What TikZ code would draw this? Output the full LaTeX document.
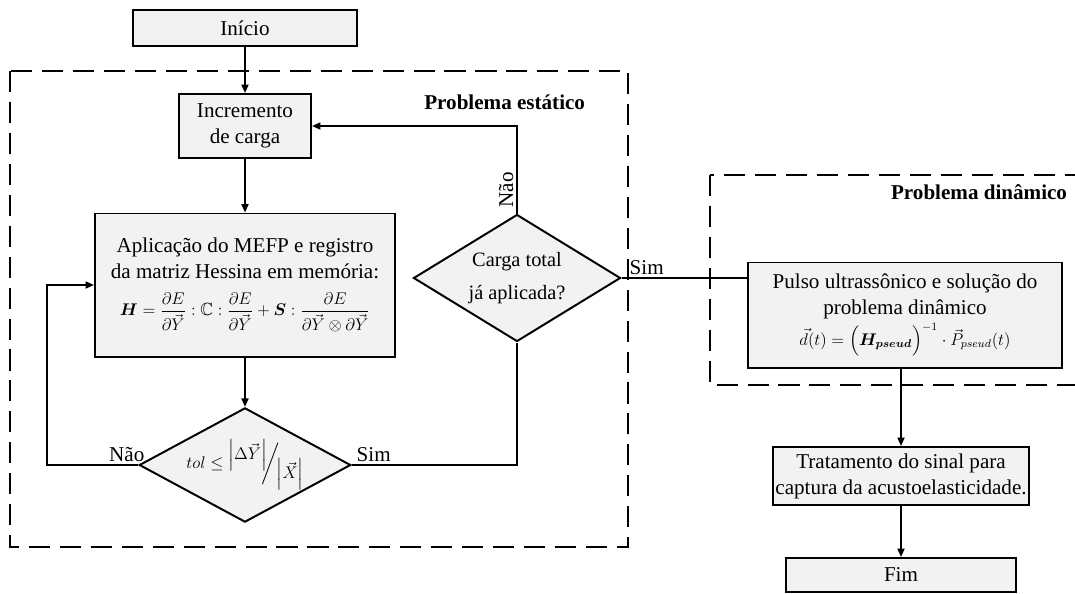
\documentclass[tikz,border=0pt]{standalone}
\usepackage{amsmath,amssymb,bm}
\usepackage{fontspec}
\setmainfont{Liberation Serif}
\usetikzlibrary{shapes.geometric,arrows.meta}
\definecolor{boxgray}{HTML}{F2F2F2}

\begin{document}
\begin{tikzpicture}[
    x=0.025cm, y=-0.025cm,
    box/.style={draw, line width=1.4pt, fill=boxgray, align=center, inner sep=2pt, font=\fontsize{15}{18.5}\selectfont},
    test/.style={diamond, draw, line width=1.4pt, fill=boxgray, align=center, inner sep=0pt, font=\fontsize{14.5}{23}\selectfont},
    region/.style={draw, line width=2pt, dash pattern=on 15pt off 7pt},
    line/.style={line width=1.2pt},
    arr/.style={-{Triangle[length=6pt,width=5pt]}, line width=1.2pt},
    lbl/.style={font=\fontsize{15}{17}\selectfont, inner sep=1pt},
    title/.style={font=\fontsize{15}{17}\selectfont\bfseries}
]
    \useasboundingbox (0,0) rectangle (1075,593);

    % Dashed regions
    \draw[region] (10,71) rectangle (628,547);
    \draw[region] (710,175) rectangle (1090,385);
    \node[title, anchor=east] (tstat) at (590,102) {Problema estático};
    \node[title, anchor=east] (tdyn) at (1072,192) {Problema dinâmico};

    % Static problem
    \node[box, minimum width=5.6cm, minimum height=0.9cm] (ini) at (245,28) {Início};
    \node[box, minimum width=3.3cm, minimum height=1.6cm] (inc) at (245,126) {Incremento\\de carga};
    \node[box, minimum width=7.5cm, minimum height=3.575cm] (mef) at (245,285) {Aplicação do MEFP e registro\\da matriz Hessina em memória:\\[8pt]
        {\fontsize{12.5}{14}\selectfont$\bm{H}=\dfrac{\partial E}{\partial\vec{Y}}:\mathbb{C}:\dfrac{\partial E}{\partial\vec{Y}}+\bm{S}:\dfrac{\partial E}{\partial\vec{Y}\otimes\partial\vec{Y}}$}};
    \node[test, aspect=1.85, minimum width=5.1cm, minimum height=2.75cm] (tol) at (245,465)
        {\fontsize{12.5}{14}\selectfont$tol\le\raisebox{1.1ex}{$\left|\Delta\vec{Y}\right|$}\!\!\bigg/\!\raisebox{-1.3ex}{$\left|\vec{X}\right|$}$};
    \node[test, aspect=1.63, minimum width=5.175cm, minimum height=3.175cm] (carga) at (517,278) {Carga total\\já aplicada?};

    % Dynamic problem
    \node[box, minimum width=7.85cm, minimum height=2.625cm] (pulso) at (905,315) {Pulso ultrassônico e solução do\\problema dinâmico\\[2pt]
        {\fontsize{12}{14}\selectfont$\vec{d}(t)=\Big(\bm{H}_{\bm{pseud}}\Big)^{-1}\cdot\vec{P}_{pseud}(t)$}};
    \node[box, minimum width=5.7cm, minimum height=1.45cm] (trat) at (901,476) {Tratamento do sinal para\\captura da acustoelasticidade.};
    \node[box, minimum width=5.75cm, minimum height=0.85cm] (fim) at (901,575) {Fim};

    % Connectors
    \draw[arr] (ini) -- (inc);
    \draw[arr] (inc) -- (mef);
    \draw[arr] (mef) -- (tol);
    \draw[arr] (tol.west) -- (47,465) |- (mef.west);
    \draw[line] (tol.east) -| (carga.south);
    \draw[arr] (carga.north) |- (inc.east);
    \draw[line] (carga.east) -- (carga.east -| pulso.west);
    \draw[arr] (pulso.south -| trat.north) -- (trat.north);
    \draw[arr] (trat) -- (fim);

    % Branch labels
    \node[lbl, anchor=south east] (nao1) at (146,463) {Não};
    \node[lbl, anchor=south west] (sim1) at (355,463) {Sim};
    \node[lbl, rotate=90, anchor=south] (nao2) at (515,190) {Não};
    \node[lbl, anchor=south west] (sim2) at (628,276) {Sim};
\end{tikzpicture}
\end{document}
